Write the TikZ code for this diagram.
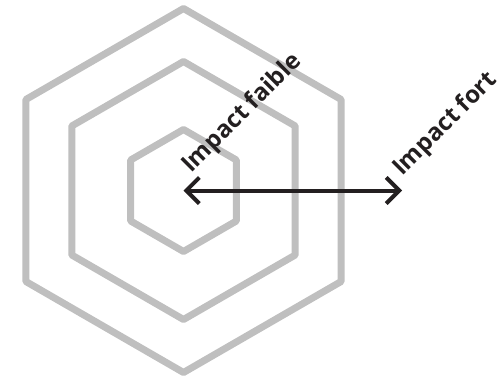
\documentclass[tikz,border=0pt]{standalone}
\usepackage{fontspec}
\setmainfont{Open Sans}
\usetikzlibrary{arrows.meta,calc}
\definecolor{hexgray}{RGB}{191,191,191}
\definecolor{arrowblack}{RGB}{35,31,32}

\begin{document}
\begin{tikzpicture}[x=1pt,y=-1pt,
    hexline/.style={draw=hexgray, line width=7pt, line join=round},
    impactlabel/.style={anchor=base west, inner sep=0pt, rotate=45, text=arrowblack, font=\fontsize{24}{28}\selectfont\bfseries},
    scalearrow/.style={draw=arrowblack, line width=4pt, {Straight Barb[length=13pt,width=26pt]}-{Straight Barb[length=13pt,width=26pt]}}]
    \useasboundingbox (0,0) rectangle (500,380);
    % centre of the hexagons
    \coordinate (centre) at (183.5,190.5);
    % three hexagons, pointy top
    \foreach \r in {61,129,182} {
        \draw[hexline] ($(centre)+(90:\r)$) -- ($(centre)+(150:\r)$) -- ($(centre)+(210:\r)$)
            -- ($(centre)+(270:\r)$) -- ($(centre)+(330:\r)$) -- ($(centre)+(30:\r)$) -- cycle;
    }
    % scale arrow
    \coordinate (fortend) at (402,190.5);
    \draw[scalearrow] (centre) -- (fortend);
    % labels
    \node[impactlabel] (faible) at (191,174) {Impact faible};
    \node[impactlabel] (fort) at (402,177) {Impact fort};
\end{tikzpicture}
\end{document}
